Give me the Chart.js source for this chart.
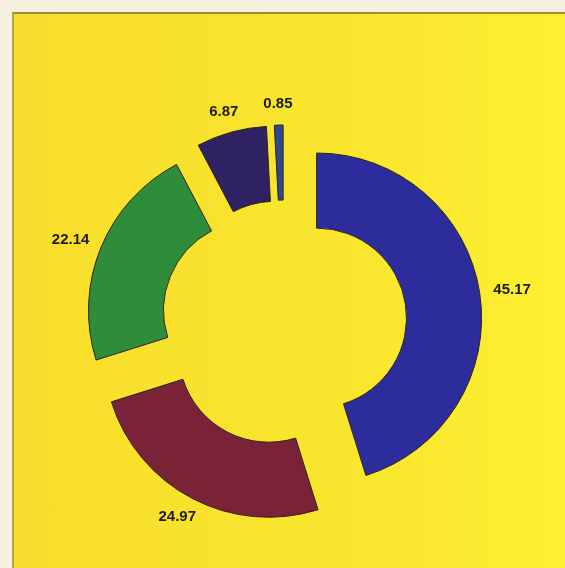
<!DOCTYPE html>
<html>
<head>
<meta charset="utf-8">
<script src="https://cdn.jsdelivr.net/npm/chart.js@4/dist/chart.umd.min.js"></script>
<style>
  html, body { margin: 0; padding: 0; background: #f6f1de; }
  #wrap { position: absolute; left: 12px; top: 12px; width: 553px; height: 556px; background: linear-gradient(90deg, #f8de2c, #f9e52e 60%, #fdf032); border-left: 2px solid #b8a640; border-top: 2px solid #9c8c3a; box-sizing: border-box; }
  canvas { position: absolute; left: 0; top: 0; }
</style>
</head>
<body>
<div id="wrap"></div>
<canvas id="pieChart" width="565" height="568"></canvas>
<script>
const categories = ['A', 'B', 'C', 'D', 'E'];
const values = [45.17, 24.97, 22.14, 6.87, 0.85];
const labels = ['45.17', '24.97', '22.14', '6.87', '0.85'];
const colors = ['#2c2c9c', '#7a2238', '#2e8c3a', '#2e2262', '#2e4a8e'];

const explode = 33;

// pull every slice out along its middle angle (plain shift, no radius change)
const explodeSlices = {
  id: 'explodeSlices',
  beforeDatasetsDraw(chart) {
    const ctx = chart.ctx;
    chart.getDatasetMeta(0).data.forEach((arc) => {
      const mid = (arc.startAngle + arc.endAngle) / 2;
      ctx.save();
      ctx.translate(Math.cos(mid) * explode, Math.sin(mid) * explode);
      arc.draw(ctx);
      ctx.restore();
    });
    return false;
  },
  // labels go here since returning false above skips afterDatasetsDraw
  afterDraw(chart) {
    const ctx = chart.ctx;
    ctx.save();
    ctx.font = 'bold 15px "Liberation Sans", Arial, sans-serif';
    ctx.fillStyle = '#1c1c14';
    ctx.textAlign = 'center';
    ctx.textBaseline = 'middle';
    chart.getDatasetMeta(0).data.forEach((arc, i) => {
      const mid = (arc.startAngle + arc.endAngle) / 2;
      const dx = Math.cos(mid), dy = Math.sin(mid);
      const dist = arc.outerRadius + explode + 14;
      // keep the text box clear of the ring
      const halfW = ctx.measureText(labels[i]).width / 2;
      ctx.fillText(labels[i], arc.x + dx * dist + dx * halfW, arc.y + dy * dist + dy * 7);
    });
    ctx.restore();
  }
};

const ctxPie = document.getElementById('pieChart').getContext('2d');
const pieChart = new Chart(ctxPie, {
  type: 'doughnut',
  data: {
    labels: categories,
    datasets: [
      {
        data: values,
        backgroundColor: colors,
        borderColor: '#2a2418',
        borderWidth: 1,
      },
    ],
  },
  options: {
    animation: false,
    responsive: false,
    radius: 165,
    cutout: '54.5%',
    layout: {
      padding: { left: 13, right: 10, top: 96, bottom: 18 },
    },
    plugins: {
      legend: { display: false },
      tooltip: { enabled: false },
    },
  },
  plugins: [explodeSlices],
});
</script>
</body>
</html>
